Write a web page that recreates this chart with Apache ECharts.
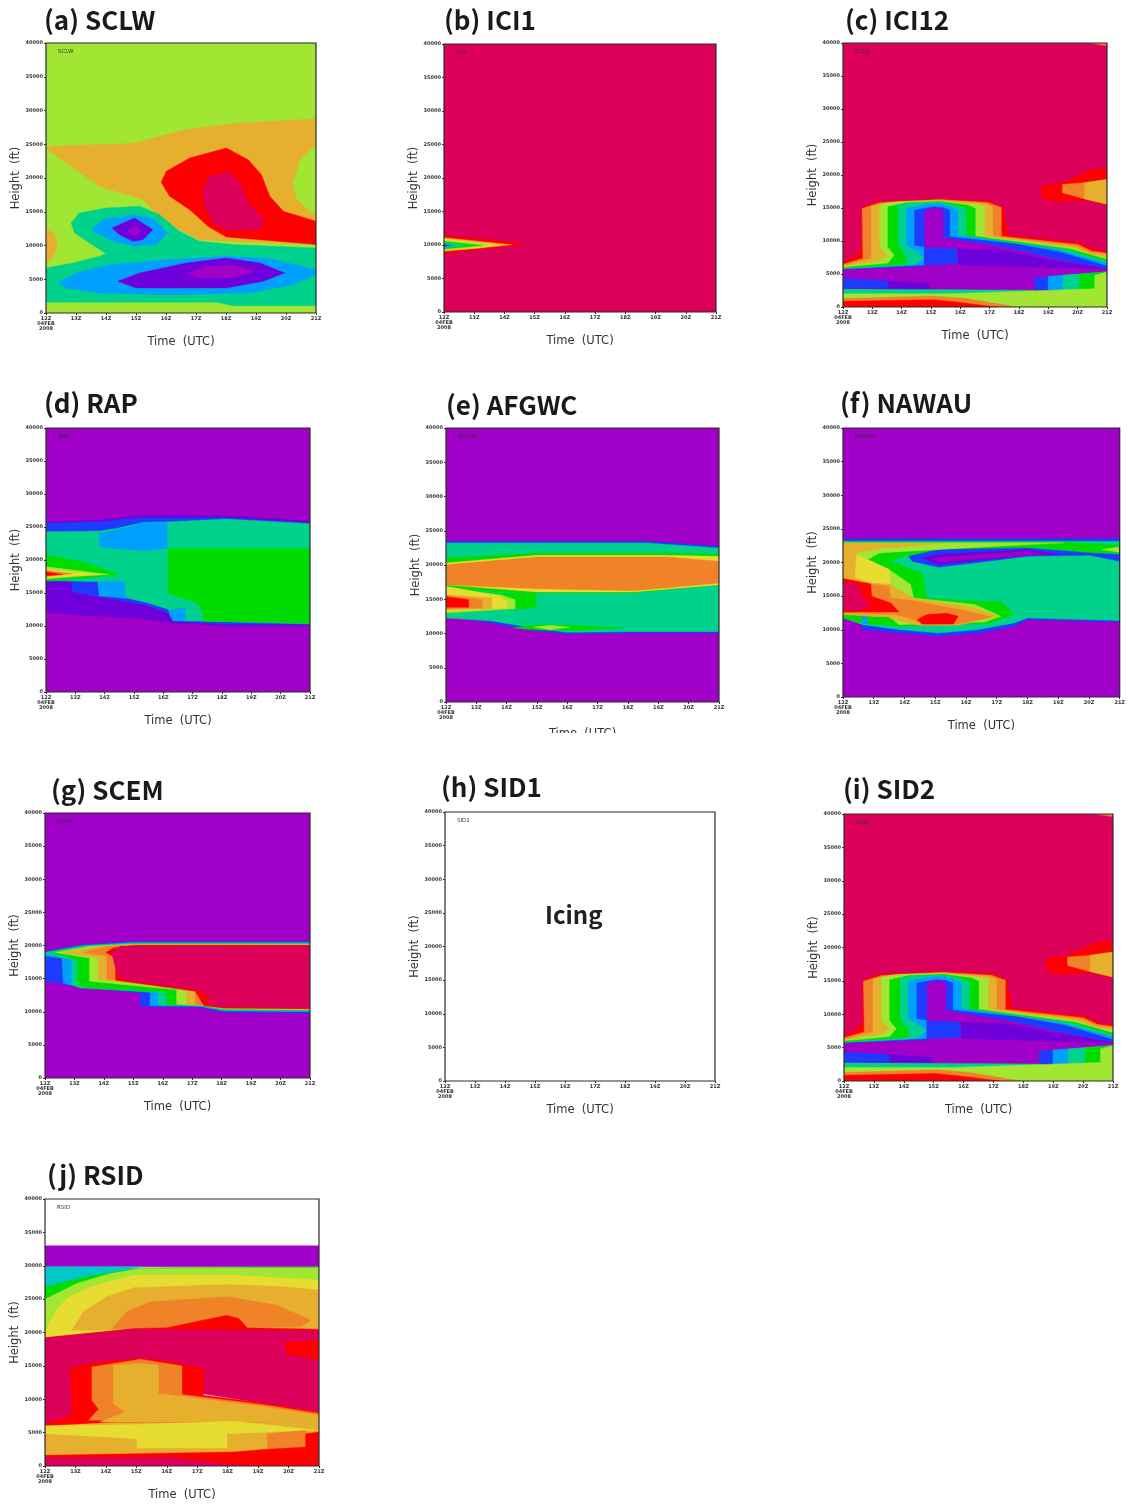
<!DOCTYPE html>
<html><head><meta charset="utf-8">
<style>html,body{margin:0;padding:0;background:#fff}#c{width:1128px;height:1504px;filter:blur(0.55px)}</style>
<script src="https://cdn.jsdelivr.net/npm/echarts@6/dist/echarts.min.js"></script>
</head><body><div id="c"></div>
<script>
// Time ticks (hours along the run) and height ticks
const timeLabels = ['12Z\n04FEB\n2008','13Z','14Z','15Z','16Z','17Z','18Z','19Z','20Z','21Z'];
const heightTicks = [0,5000,10000,15000,20000,25000,30000,35000,40000];
// Contour level index -> colour
const levelColors = ['#a000c8','#6e00dc','#1e3cff','#00a0ff','#00c8c8','#00d28c','#00dc00','#a0e632','#e6dc32','#e6af2d','#f08228','#ff0000','#dc005a'];

// Each band: [level, time,height, time,height, ...]; painted in order
const sclw = [
 [7, 0,0, 9,0, 9,40000, 0,40000],
 [9, 0,24450, .11,24700, 2.9,25100, 4.68,27170, 6.24,28060, 9,28750, 9,24950, 8.46,22700, 8.22,19270, 8.35,16800, 9,14300, 9,10100, 5.12,10870, 4.45,12350, 3.67,14820, 3.23,16800, 1.78,18770, .67,22230],
 [11, 3.84,19360, 4.01,21000, 4.79,22970, 6.01,24450, 6.74,22720, 7.18,20500, 7.46,17290, 7.91,15070, 9,13590, 9,10130, 8.13,10470, 6.01,11260, 5.4,12840, 4.79,15310, 4.12,17290],
 [12, 5.23,18280, 5.46,20250, 6.12,20850, 6.46,19270, 6.74,16300, 7.29,13830, 7.13,12350, 6.01,12350, 5.57,13340, 5.29,15810],
 [9, 0,12350, .28,11860, .39,9880, .22,8150, 0,7410],
 [5, 0,6670, .89,7410, 1.78,8400, 2,8790, 1.45,10370, .95,11860, .84,13340, 1.11,14820, 2,15560, 3.12,15810, 3.79,14570, 4.45,12100, 5.12,10620, 6.24,10130, 9,9630, 9,1090, 6.24,1090, 5.68,1580, 0,1580],
 [3, 1.5,12350, 1.89,13830, 2.9,14570, 3.56,14080, 4.06,11860, 3.67,10130, 2.95,9880, 2.23,10620],
 [1, 2.2,12600, 2.95,14080, 3.56,12350, 3.23,10870, 2.9,10620, 2.45,11610],
 [0, 2.73,12350, 3.01,12940, 3.17,12100, 2.9,11460],
 [3, .42,4450, 1,5930, 2.12,7160, 4.01,7900, 6.01,8400, 7.35,8150, 9,6420, 9,5680, 8.24,4200, 6.79,2960, 4.01,2720, 1.78,2960, .67,3700],
 [1, 2.39,4690, 3.12,5930, 4.68,7410, 6.01,8150, 7.13,7410, 7.96,5930, 7.24,4690, 6.01,3700, 3.01,3700],
 [0, 4.68,5930, 5.35,6920, 6.24,7160, 7.02,6180, 6.24,5190, 5.12,5190]
];
const ici1 = [
 [12, 0,0, 9,0, 9,40000, 0,40000],
 [11, 0,11380, 1.63,10790, 2.68,10190, 1.63,9540, 0,8700],
 [9, 0,11080, 1.52,10390, 2.24,10040, 1.52,9690, 0,9050],
 [8, 0,10880, 1.08,10390, 1.85,9990, 1.08,9540, 0,9200],
 [7, 0,10690, 1.52,9990, 0,9290],
 [6, 0,10540, 1.27,9940, 0,9400],
 [5, 0,10340, .75,9940, 0,9590],
 [3, 0,10190, .36,9940, 0,9690],
 [2, 0,10090, .2,9940, 0,9790]
];
const ici12 = [
 [12, 0,0, 9,0, 9,40000, 0,40000],
 [10, 8.4,40000, 9,40000, 9,39600],
 [11, 6.82,18470, 7.44,18720, 8.18,20240, 8.52,20850, 9,21000, 9,15430, 8.3,16190, 7.44,15940, 6.88,16190, 6.73,17460],
 [10, 7.48,18570, 8.18,18820, 9,19330, 9,15580, 8.18,16450, 7.48,17300],
 [9, 8.24,18820, 9,19330, 9,15580, 8.24,16390],
 [11, 0,6830, .4,7590, .63,8860, .63,15080, 1.14,15940, 3.3,16390, 5,16040, 5.45,15080, 5.63,10880, 8.07,9720, 8.52,8700, 9,8400, 9,5570, 0,5570],
 [10, 0,6480, .68,7340, .65,14930, 1.25,15790, 3.3,16290, 4.94,15840, 5.4,15080, 5.4,10730, 8.01,9460, 8.47,8500, 9,8150, 9,5460, 0,5460],
 [9, 0,6270, .97,7340, .97,15280, 1.59,15890, 3.3,16190, 4.83,15690, 5.11,15180, 5.11,10730, 7.95,9210, 8.41,8300, 9,7950, 9,5460, 0,5460],
 [7, 0,6170, 1.25,6980, 1.5,7800, 1.25,9110, 1.25,15580, 1.93,15990, 3.3,16090, 4.55,15580, 4.83,15280, 4.83,10730, 7.84,9000, 8.4,8000, 9,7600, 9,5460, 0,5460],
 [6, 0,5970, 1.53,6580, 1.76,7840, 1.53,9110, 1.53,15180, 2.16,15790, 3.3,15990, 4.26,15430, 4.51,14930, 4.51,10730, 7.73,8800, 9,7200, 9,5460, 0,5460],
 [5, 0,5820, 2.16,6480, 2.16,7590, 1.88,9360, 1.88,15430, 2.4,15800, 3.3,15890, 3.95,15280, 4.2,14780, 4.2,10730, 7.61,8700, 9,6900, 9,5460, 0,5460],
 [3, 0,5670, 2.44,6330, 2.78,7590, 2.16,9360, 2.16,14930, 2.84,15580, 3.3,15690, 3.64,15280, 3.92,14670, 3.92,10880, 7.16,8850, 9,6600, 9,5460, 0,5460],
 [2, 0,5670, 2.78,6330, 2.78,9110, 2.44,9360, 2.44,14670, 3.07,15180, 3.41,15080, 3.64,14670, 3.64,10630, 5.8,9610, 7.39,8350, 9,6200, 9,5460, 0,5460],
 [0, 2.78,14570, 3.13,15080, 3.41,14670, 3.41,10530, 5.57,8950, 7.16,7300, 9,5670, 9,5400, 3.07,6070, 2.78,6070],
 [1, 3.92,8800, 5.57,8500, 7.16,7000, 9,5800, 9,5600, 3.92,6400],
 [2, 2.78,9010, 3.86,8850, 3.92,6580, 2.78,6330],
 [0, 0,5670, 3.07,6170, 9,5820, 9,5310, 6.53,2530, 0,2530],
 [1, 0,4300, 1.53,3950, 2.95,3540, 2.95,2630, 0,2730],
 [2, 0,4300, 1.53,3950, 1.53,2930, 0,2930],
 [2, 6.53,4450, 9,5310, 9,2400, 6.53,2530],
 [3, 6.99,4650, 9,5310, 9,2400, 6.99,2530],
 [5, 7.5,4810, 9,5310, 9,2400, 7.5,2530],
 [6, 8.07,4960, 9,5310, 9,2400, 8.07,2600],
 [5, 0,2730, 6.53,2530, 6.4,1900, 0,1900],
 [7, 0,2020, 3.64,2020, 6.36,2430, 8.58,2780, 8.58,4810, 9,5310, 9,0, 0,0],
 [10, 0,1270, 3.07,1670, 4.2,1270, 5.8,100, 5.8,0, 0,0],
 [11, 0,860, 3.07,1110, 3.86,760, 5.23,0, 0,0]
];
const rap = [
 [0, 0,0, 9,0, 9,40000, 0,40000],
 [1, 0,25700, 1.82,26060, 3.19,26670, 6.15,26720, 9,25910, 9,10020, 6.15,10020, 4.21,10520, 3.3,11130, 1.25,11640, 0,12140],
 [2, 0,25550, 1.82,25810, 3.19,26410, 6.15,26410, 9,25600, 9,10220, 6.15,10220, 4.33,10730, 4.1,12140, 3.42,13160, 1.82,14420, .91,15180, .85,16700, 0,16700],
 [5, 0,24290, 1.82,24390, 2.39,24790, 3.3,25700, 4.21,25810, 6.15,26210, 9,25500, 9,10320, 5.35,10730, 4.33,10830, 4.16,12550, 3.42,13560, 2.68,14320, 1.82,14570, 1.77,16700, 0,16950],
 [3, 1.82,24040, 2.39,24540, 3.3,25550, 4.13,25700, 4.13,21760, 3.3,21400, 2.28,21760, 1.82,22010],
 [3, 1.8,16700, 2.68,16700, 2.71,14170, 1.82,14780],
 [3, 4.21,12400, 4.73,12750, 4.78,10880, 4.33,10830],
 [6, 4.16,21760, 9,21760, 9,10420, 5.35,10730, 5.35,12140, 5.13,13560, 4.16,14930],
 [6, 0,20750, 1.25,19730, 2.51,17810, 1.25,17200, 0,16800],
 [7, 0,18980, .91,18470, 2.16,17810, .91,17460, 0,17100],
 [8, 0,18620, .68,18220, 1.82,17810, .68,17510, 0,17300],
 [10, 0,18420, .91,17910, 0,17510],
 [11, 0,18220, .57,17810, 0,17610]
];
const afgwc = [
 [0, 0,0, 9,0, 9,40000, 0,40000],
 [2, 0,23450, 6.62,23450, 9,22720, 9,10070, 5.96,10070, 3.98,9930, 2.89,10410, 1.35,11680, 0,12410],
 [5, 0,23210, 6.62,23210, 9,22480, 9,10270, 5.96,10270, 3.98,10170, 2.89,10800, 1.46,11870, 0,12260],
 [6, 0,21020, 3,21750, 7.28,21750, 9,21610, 9,17130, 6.18,15910, 3,15910, 0,16400],
 [8, 0,20290, 3,21410, 7.28,21410, 9,21260, 9,17130, 6.18,16060, 3,16060, 0,17130],
 [10, 0,20050, 3,21170, 7.28,21170, 9,20530, 9,17370, 6.18,16250, 3,16540, 0,17130],
 [6, 0,15910, 2.97,15910, 2.97,13720, 0,12990],
 [7, 0,16400, 1.79,15670, 2.28,14940, 2.28,13620, 0,12990],
 [8, 0,16890, 1.68,15570, 2.01,14700, 2.01,13720, 0,13240],
 [9, 0,15670, 1.51,15180, 1.51,13620, 0,13480],
 [10, 0,15570, 1.19,14940, 1.19,13720, 0,13620],
 [11, 0,15380, .75,14940, .75,13820, 0,13820],
 [6, 2.23,10800, 3,11290, 4.2,11190, 5.85,10800, 4.2,10410, 3,10510],
 [7, 2.89,10950, 3.44,11190, 4.09,10900, 3.44,10560]
];
const nawau = [
 [0, 0,0, 9,0, 9,40000, 0,40000],
 [2, 0,23560, 9,23560, 9,11160, 6,11510, 5.57,10520, 4.42,9520, 3.11,9030, 1.82,9520, .64,10020, .59,11260, 0,12100],
 [5, 0,23160, 9,23160, 9,11360, 6,11760, 5.57,11010, 4.42,10020, 3.11,9520, 1.82,10020, .64,10760, 0,11760],
 [6, 0,23060, 7.18,23060, 9,22570, 9,21430, 8.04,21430, 6.32,22170, 3.97,21920, 2.14,21180, 1.55,20190, 2.57,18450, 2.73,14730, 4.39,14240, 5.14,14240, 5.57,12250, 4.82,11010, 1.82,10520, .64,11010, 0,11760],
 [2, 2.14,20930, 3.11,21920, 6.02,22170, 8.04,21430, 9,21180, 9,20190, 8.04,21080, 6.02,20930, 3.11,19290, 2.25,20190],
 [1, 2.57,20680, 3.11,21180, 6.02,21920, 7.07,21180, 6.02,21080, 3.11,19690],
 [0, 2.89,20680, 6.02,21670, 6.54,21280, 3.11,20090],
 [7, 8.41,21920, 8.95,22320, 9,21530],
 [7, 0,22920, 7.18,22920, 3.97,22170, 1.18,21430, .8,20440, 1.5,18950, 2.2,16720, 2.3,14730, 4.29,13740, 5.14,12000, 4.61,11160, 1.82,10760, 1.5,12000, 0,12250],
 [8, .43,21180, .8,20440, 1.5,18950, 1.55,16720, .91,16960, .38,17710],
 [9, 0,22920, 3.11,22770, 1.18,22070, .43,21430, .38,17710, .91,16960, 1.55,16720, 2.25,14730, 4.18,13340, 5.04,12000, 3.75,10660, 2.47,10660, 1.5,11750, 0,12350],
 [6, .8,11850, 1.5,11850, 1.52,10760, .8,10860],
 [3, .59,11850, .8,11850, .8,10860, .64,10960],
 [10, 0,17610, .91,16810, 1.5,16470, 1.55,14730, 2.36,14240, 4.07,12750, 4.82,11900, 3.75,10860, 2.68,10660, 2.14,11750, 1.71,12250, 0,12500],
 [11, 0,17610, .91,16810, .93,14980, 1.55,13990, 1.82,12650, 0,12650],
 [11, 2.41,11510, 2.73,12250, 3.38,12450, 3.75,12000, 3.59,10860, 2.57,10860],
 [12, 0,17210, .48,16720, .64,14730, .91,13740, .48,12850, 0,12990]
];
const scem = [
 [0, 0,0, 9,0, 9,40000, 0,40000],
 [2, 0,19110, 1.3,20120, 3,20620, 9,20620, 9,9810, 6.06,9910, 5.27,10710, 3.23,10810, 3.23,12830, 1.08,13830, .4,14340, 0,14590],
 [3, 0,18960, 1.3,20020, 3,20470, 9,20470, 9,10010, 6.06,10110, 5.27,10810, 3.57,10920, 3.57,12930, 1.08,13830, .62,14340, .57,18110, 0,18360],
 [5, 0,18960, 1.3,19920, 3,20370, 9,20370, 9,10110, 6.06,10210, 5.27,10920, 3.85,11020, 3.85,12930, 1.19,13580, .91,14080, .91,17860, 0,18760],
 [6, .17,18960, 1.42,19870, 3,20270, 9,20270, 9,10210, 6.06,10310, 5.27,10970, 4.13,11070, 4.13,12930, 1.53,13580, 1.1,14080, 1.1,17860],
 [7, .34,18960, 1.53,19870, 3,20220, 9,20220, 9,10260, 6.06,10410, 5.38,10920, 4.47,11120, 4.47,13330, 1.51,14590, 1.51,18110],
 [9, .62,18960, 1.87,19870, 3,20120, 9,20120, 9,10360, 6.06,10510, 5.38,11020, 4.81,11120, 4.81,13580, 1.81,14840, 1.81,18110],
 [10, 1.3,18960, 2.1,19870, 3,20070, 9,20070, 9,10410, 6.06,10510, 5.38,10970, 5.1,11070, 5.1,13230, 2.1,14940, 2.1,18360],
 [11, 2.07,18960, 2.32,19620, 3,20020, 9,20020, 9,10460, 6.06,10560, 5.4,10920, 5.1,13080, 2.4,14740, 2.4,18110],
 [12, 2.26,18960, 2.55,19870, 9,19970, 9,10560, 6.06,10710, 5.66,10920, 5.4,13080, 2.66,14840, 2.41,16350]
];
const sid1 = [];
const sid2 = ici12;
const rsid = [
 [0, 0,33000, 9,33000, 9,29850, 0,29850],
 [4, 0,29850, 3.13,29850, 0,26000],
 [6, 0,26850, 1.5,28500, 3.13,29700, 9,29800, 9,20000, 0,19000],
 [7, 0,25000, 1.04,27350, 2.14,28850, 3.13,29600, 9,29700, 9,20000, 0,19000],
 [8, 0,20100, .33,23100, .71,25100, 1.48,26850, 2.91,28600, 6.2,28600, 9,27850, 9,20000, 0,19000],
 [9, .88,20350, 1.26,23100, 2.03,25350, 2.91,26700, 5.98,27200, 7.85,26850, 9,26350, 9,20600],
 [10, 2.2,20600, 2.69,23100, 3.46,24600, 5.98,25350, 7.63,24100, 8.73,21850, 8.4,20850],
 [11, 0,19200, 2.91,20600, 4,20700, 5.98,22600, 6.37,22100, 6.64,20700, 9,20500, 9,19500, 0,19000],
 [12, 0,19200, 2.91,20500, 9,20300, 9,8100, 5.1,10850, 0,6350],
 [11, 7.9,18600, 9,18850, 9,15850, 7.9,16850],
 [11, 0,6350, .88,7600, .82,14600, 1.59,15500, 3.13,16100, 3.79,15850, 5.21,14600, 5.21,10600, 7.3,9350, 9,8100, 9,6600, 0,6000],
 [10, 1.54,14850, 3.13,16000, 4.5,15000, 4.5,10700, 7.3,9100, 9,7850, 9,6600, 1.43,6850, 1.76,8500, 1.54,9850],
 [9, 2.25,15100, 3.13,15350, 3.73,15100, 3.73,10850, 7.3,8850, 9,7600, 9,6600, 1.81,6600, 2.63,8100, 2.25,9350],
 [9, 0,6000, 2.25,6500, 9,6600, 9,0, 0,0],
 [8, 0,6000, 2.91,6200, 6.2,6700, 9,5350, 5.98,4850, 5.98,2700, 3.02,2700, 3.02,4100, 0,4850],
 [10, 7.3,4850, 8.56,5350, 8.56,2850, 7.3,2600],
 [11, 0,1600, 6.2,2100, 7.3,2500, 8.56,2850, 8.56,4850, 9,5100, 9,0, 0,0],
 [12, 0,1300, 4,1300, 6.5,0, 0,0]
];

const panels = [
 {title:'(a) SCLW',  tag:'SCLW',  bands:sclw,  box:[46,43,316,313],   head:[44,21]},
 {title:'(b) ICI1',  tag:'ICI1',  bands:ici1,  box:[444,44,716,312],  head:[444,21]},
 {title:'(c) ICI12', tag:'ICI12', bands:ici12, box:[843,43,1107,307], head:[845,21]},
 {title:'(d) RAP',   tag:'RAP',   bands:rap,   box:[46,428,310,692],  head:[44,404]},
 {title:'(e) AFGWC', tag:'AFGWC', bands:afgwc, box:[446,428,719,702], head:[446,406]},
 {title:'(f) NAWAU', tag:'NAWAU', bands:nawau, box:[843,428,1123,697],head:[840,404]},
 {title:'(g) SCEM',  tag:'SCEM',  bands:scem,  box:[45,813,310,1078], head:[51,791]},
 {title:'(h) SID1',  tag:'SID1',  bands:sid1,  box:[445,812,715,1081],head:[441,788]},
 {title:'(i) SID2',  tag:'SID2',  bands:sid2,  box:[844,814,1113,1081],head:[843,790]},
 {title:'(j) RSID',  tag:'RSID',  bands:rsid,  box:[45,1199,319,1466],head:[47,1176]}
];

const option = {animation:false, backgroundColor:'#fff', title:[], grid:[], xAxis:[], yAxis:[], series:[], graphic:[]};
panels.forEach(function (p, i) {
  const b = p.box;
  option.title.push({text:p.title, left:p.head[0], top:p.head[1]-14, padding:0,
    textStyle:{fontFamily:'Noto Sans CJK KR', fontSize:26, fontWeight:'bold', color:'#1a1a1a'}});
  option.grid.push({left:b[0], top:b[1], width:b[2]-b[0], height:b[3]-b[1], show:true,
    backgroundColor:'transparent', borderColor:'#2a2a2a', borderWidth:1.2, z:5});
  option.xAxis.push({gridIndex:i, type:'value', min:0, max:9, interval:1,
    name:'Time  (UTC)', nameLocation:'middle', nameGap:i === 4 ? 26 : 23,
    nameTextStyle:{fontFamily:'DejaVu Sans', fontSize:11.5, color:'#333'},
    axisLine:{show:false}, splitLine:{show:false},
    axisTick:{show:true, length:2, inside:false, lineStyle:{color:'#333'}},
    axisLabel:{fontFamily:'DejaVu Sans', fontSize:5, fontWeight:'bold', color:'#333', margin:3, lineHeight:5,
      hideOverlap:false, showMinLabel:true, showMaxLabel:true,
      formatter:function (v) { return timeLabels[v]; }}});
  option.yAxis.push({gridIndex:i, type:'value', min:0, max:40000, interval:5000,
    name:'Height  (ft)', nameLocation:'middle', nameGap:22, nameRotate:90,
    nameTextStyle:{fontFamily:'DejaVu Sans', fontSize:11.5, color:'#333'},
    axisLine:{show:false}, splitLine:{show:false},
    axisTick:{show:true, length:2, lineStyle:{color:'#333'}},
    axisLabel:{fontFamily:'DejaVu Sans', fontSize:5, fontWeight:'bold', color:'#333', margin:3,
      hideOverlap:false, showMinLabel:true, showMaxLabel:true,
      formatter:function (v) { return heightTicks.indexOf(v) >= 0 ? String(v) : ''; }}});
  option.series.push({type:'custom', name:p.tag, xAxisIndex:i, yAxisIndex:i, z:2, silent:true, clip:true,
    data:p.bands.map(function (band) { return [band[1], band[2], band[0]]; }),
    encode:{x:0, y:1},
    renderItem:function (params, api) {
      const band = p.bands[params.dataIndex];
      const points = [];
      for (let k = 1; k < band.length; k += 2) points.push(api.coord([band[k], band[k+1]]));
      const color = levelColors[band[0]];
      return {type:'polygon', shape:{points:points}, style:{fill:color, stroke:color, lineWidth:0.4}};
    }});
  option.graphic.push({type:'text', z:10, left:b[0]+12, top:b[1]+6,
    style:{text:p.tag, fontFamily:'DejaVu Sans', fontSize:5.5, fill:'#333'}});
});
option.graphic.push({type:'text', z:10, left:545, top:903,
  style:{text:'Icing', fontFamily:'Noto Sans CJK KR', fontSize:24, fontWeight:'bold', fill:'#222'}});
// The reference photo crops the lower half of panel (e)'s time label
option.graphic.push({type:'rect', z:20, shape:{x:530, y:733, width:110, height:16}, style:{fill:'#fff'}});

echarts.init(document.getElementById('c')).setOption(option);
</script></body></html>
